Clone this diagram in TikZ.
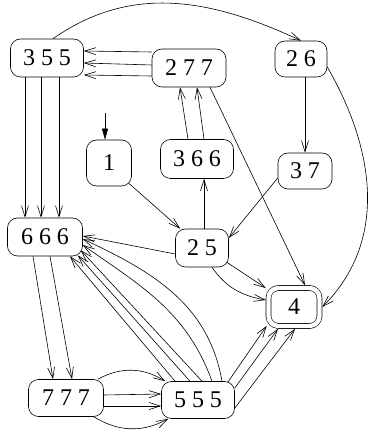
\documentclass[tikz,border=0pt]{standalone}
\usepackage{fontspec}
\setmainfont{Liberation Serif}
\usetikzlibrary{arrows.meta}
\newcommand\statefont{\fontsize{24}{27}\selectfont\spaceskip=0.24em\relax}

\begin{document}
\begin{tikzpicture}[x=1pt,y=1pt,line width=0.6pt,
        state/.style={draw,rounded corners=10pt,minimum width=73pt,
            minimum height=38pt,inner sep=0pt,font=\statefont},
        final/.style={state,double,double distance=4.4pt,minimum width=51pt,
            minimum height=38pt,outer sep=2.8pt},
        >={Straight Barb[length=11pt,width=7pt]}]
\useasboundingbox (0,0) rectangle (369,433);

\node[state] at (47,375) (s355) {3 5 5};
\node[state,minimum width=74pt] at (189,365) (s277) {2 7 7};
\node[state,minimum width=52pt,minimum height=36pt] at (301,374) (s26) {2 6};
\node[state,minimum width=45pt,minimum height=46pt] at (109,270) (s1) {1};
\node[state,minimum height=39pt] at (197,274) (s366) {3 6 6};
\node[state,minimum width=54pt,minimum height=36pt] at (305,262) (s37) {3 7};
\node[state,minimum width=75pt] at (45,196) (s666) {6 6 6};
\node[state,minimum width=53pt] at (202,185) (s25) {2 5};
\node[final] at (294,126) (s4) {4};
\node[state,minimum width=75pt,minimum height=37pt] at (66,35) (s777) {7 7 7};
\node[state,minimum height=37pt] at (198,33) (s555) {5 5 5};

\coordinate (init) at (105,320);
\draw[-{Triangle[length=11pt,width=6pt]}] (init) -- ([xshift=-4pt]s1.north);

\draw[->] ([xshift=6pt]s355.north) to[out=35,in=155] (s26.north);
\draw[->] ([yshift=-8pt]s26.east) to[out=-60,in=45] (s4.east);

\draw[->] ([yshift=16pt]s277.west) -- ([yshift=7pt]s355.east);
\draw[->] ([yshift=3pt]s277.west) -- ([yshift=-5pt]s355.east);
\draw[->] ([yshift=-8pt]s277.west) -- ([yshift=-17pt]s355.east);

\draw[->] ([xshift=-22pt]s355.south) -- ([xshift=-20pt]s666.north);
\draw[->] ([xshift=-6pt]s355.south) -- ([xshift=-4pt]s666.north);
\draw[->] ([xshift=12pt]s355.south) -- ([xshift=14pt]s666.north);

\draw[->] ([xshift=-9pt]s366.north) -- ([xshift=-9pt]s277.south);
\draw[->] ([xshift=7pt]s366.north) -- ([xshift=8pt]s277.south);
\draw[->] ([xshift=21pt]s277.south) -- ([xshift=11pt]s4.north);
\draw[->] ([xshift=4pt]s26.south) -- (s37.north);

\draw[->] ([shift={(-3pt,3pt)}]s1.south east) -- (s25);
\draw[->] ([xshift=2pt]s25.north) -- ([xshift=7pt]s366.south);
\draw[->] ([yshift=-7pt]s37.west) -- ([yshift=10pt]s25.east);
\draw[->] ([yshift=-6pt]s25.west) -- ([yshift=1pt]s666.east);
\draw[->] ([shift={(-2pt,5pt)}]s25.south east) -- ([yshift=19pt]s4.west);
\draw[->] ([xshift=10pt]s25.south) to[out=-55,in=170] ([yshift=7pt]s4.west);

\draw[->] ([shift={(-7pt,-1pt)}]s555.north east) -- ([shift={(1pt,3pt)}]s4.south west);
\draw[->] ([yshift=12pt]s555.east) -- ([xshift=-16pt]s4.south);
\draw[->] ([yshift=-8pt]s555.east) -- ([xshift=1pt]s4.south);

\draw[->] ([xshift=-12pt]s666.south) -- ([xshift=-13pt]s777.north);
\draw[->] ([xshift=5pt]s666.south) -- ([xshift=6pt]s777.north);

\draw[->] ([xshift=-6pt]s777.north east) to[bend left=30] ([xshift=4pt]s555.north west);
\draw[->] ([yshift=3pt]s777.east) -- ([yshift=6pt]s555.west);
\draw[->] ([yshift=-8pt]s777.east) -- ([yshift=-6pt]s555.west);
\draw[->] ([xshift=-10pt]s777.south east) to[bend right=30] ([xshift=7pt]s555.south west);

\draw[->] ([xshift=-23pt]s555.north) -- ([xshift=25pt]s666.south);
\draw[->] ([xshift=-8pt]s555.north) -- ([shift={(-5pt,1pt)}]s666.south east);
\draw[->] ([xshift=4pt]s555.north) -- ([shift={(-2pt,6pt)}]s666.south east);
\draw[->] ([xshift=14pt]s555.north) to[out=110,in=-35] ([yshift=-8pt]s666.east);
\draw[->] ([xshift=24pt]s555.north) to[out=100,in=-25] ([yshift=-2pt]s666.east);
\end{tikzpicture}
\end{document}
